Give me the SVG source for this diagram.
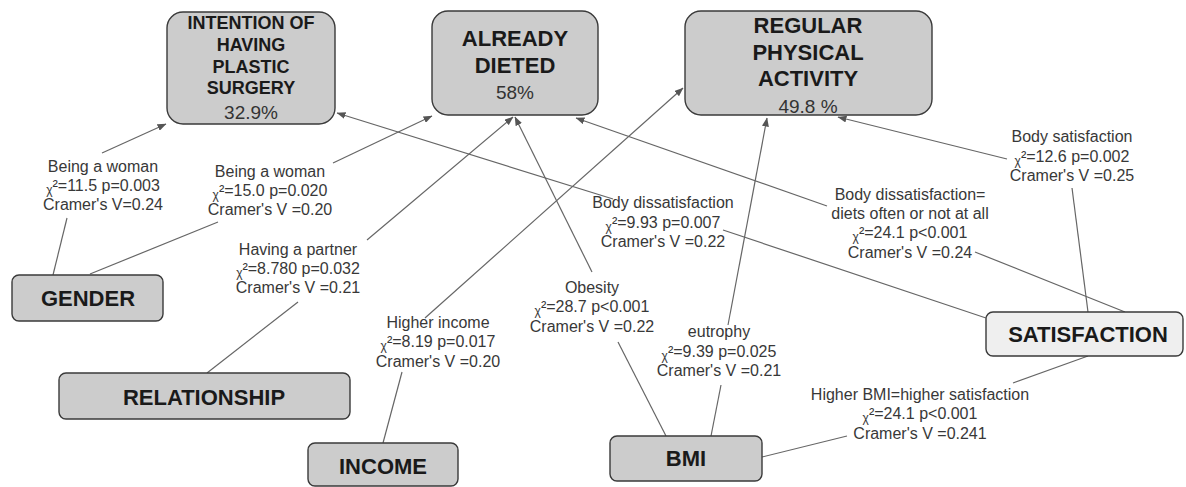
<svg xmlns="http://www.w3.org/2000/svg" width="1186" height="487" viewBox="0 0 1186 487">
<style>
.box{fill:#cccccc;stroke:#3a3a3a;stroke-width:1.4}
.box2{fill:#efefef;stroke:#3a3a3a;stroke-width:1.4}
.hd{font-family:"Liberation Sans",Arial,sans-serif;font-weight:bold;fill:#1a1a1a;text-anchor:middle}
.pc{font-family:"Liberation Sans",Arial,sans-serif;font-size:19px;fill:#333;text-anchor:middle}
.lb{font-family:"Liberation Sans",Arial,sans-serif;font-size:16px;fill:#383838;text-anchor:middle}
.chi{font-size:12px}
.ln{stroke:#666;stroke-width:1.2;fill:none}
.ar{marker-end:url(#ah)}
</style>
<defs>
<marker id="ah" markerWidth="9" markerHeight="7" refX="8.5" refY="3.5" orient="auto" markerUnits="userSpaceOnUse">
<path d="M0,0 L9,3.5 L0,7 z" fill="#555"/>
</marker>
</defs>
<rect width="1186" height="487" fill="#ffffff"/>

<g id="connectors">
<line class="ln" x1="53" y1="275" x2="67" y2="218"/>
<line class="ln ar" x1="102" y1="153" x2="166" y2="124"/>
<line class="ln" x1="90" y1="274" x2="218" y2="222"/>
<line class="ln ar" x1="333" y1="163" x2="432" y2="116"/>
<line class="ln" x1="207" y1="373" x2="298" y2="302"/>
<line class="ln ar" x1="367" y1="240" x2="513" y2="117"/>
<line class="ln" x1="383" y1="443" x2="402" y2="372"/>
<line class="ln ar" x1="425" y1="318" x2="683" y2="88"/>
<line class="ln" x1="666" y1="436" x2="618" y2="342"/>
<line class="ln ar" x1="592" y1="272" x2="515" y2="117"/>
<line class="ln" x1="711" y1="436" x2="721" y2="385"/>
<line class="ln ar" x1="728" y1="325" x2="767" y2="118"/>
<line class="ln" x1="762" y1="457" x2="847" y2="436"/>
<line class="ln" x1="1013" y1="383" x2="1088" y2="356"/>
<line class="ln" x1="986" y1="318" x2="723" y2="230"/>
<line class="ln ar" x1="613" y1="199" x2="337" y2="113"/>
<line class="ln" x1="1125" y1="312" x2="975" y2="252"/>
<line class="ln ar" x1="827" y1="206" x2="576" y2="118"/>
<line class="ln" x1="1088" y1="312" x2="1072" y2="188"/>
<line class="ln ar" x1="1007" y1="159" x2="838" y2="117"/>
</g>

<g id="node-intention">
<rect class="box" x="167" y="12" width="168" height="112" rx="16"/>
<text class="hd" font-size="18" x="251"><tspan x="251" y="29">INTENTION OF</tspan><tspan x="251" y="51">HAVING</tspan><tspan x="251" y="73">PLASTIC</tspan><tspan x="251" y="94">SURGERY</tspan></text>
<text class="pc" x="251" y="119">32.9%</text>
</g>

<g id="node-dieted">
<rect class="box" x="432" y="11" width="166" height="104" rx="16"/>
<text class="hd" font-size="22" x="515"><tspan x="515" y="46">ALREADY</tspan><tspan x="515" y="73">DIETED</tspan></text>
<text class="pc" x="515" y="99">58%</text>
</g>

<g id="node-activity">
<rect class="box" x="685" y="11" width="247" height="104" rx="16"/>
<text class="hd" font-size="22" x="808"><tspan x="808" y="33">REGULAR</tspan><tspan x="808" y="60">PHYSICAL</tspan><tspan x="808" y="86">ACTIVITY</tspan></text>
<text class="pc" x="808" y="113">49.8 %</text>
</g>

<g id="node-gender">
<rect class="box" x="12" y="275" width="151" height="46" rx="7"/>
<text class="hd" font-size="22" x="88" y="306">GENDER</text>
</g>

<g id="node-relationship">
<rect class="box" x="59" y="373" width="291" height="46" rx="7"/>
<text class="hd" font-size="22" x="204" y="405">RELATIONSHIP</text>
</g>

<g id="node-income">
<rect class="box" x="308" y="443" width="150" height="43" rx="7"/>
<text class="hd" font-size="22" x="383" y="474">INCOME</text>
</g>

<g id="node-bmi">
<rect class="box" x="610" y="436" width="152" height="45" rx="7"/>
<text class="hd" font-size="22" x="686" y="466">BMI</text>
</g>

<g id="node-satisfaction">
<rect class="box2" x="986" y="312" width="197" height="44" rx="7"/>
<text class="hd" font-size="22" x="1088" y="342">SATISFACTION</text>
</g>

<g id="labels">
<text class="lb"><tspan x="103" y="172">Being a woman</tspan><tspan x="103" y="191"><tspan class="chi" dy="3">χ</tspan><tspan dy="-3">²=11.5 p=0.003</tspan></tspan><tspan x="103" y="210">Cramer's V=0.24</tspan></text>
<text class="lb"><tspan x="270" y="177">Being a woman</tspan><tspan x="270" y="196"><tspan class="chi" dy="3">χ</tspan><tspan dy="-3">²=15.0 p=0.020</tspan></tspan><tspan x="270" y="215">Cramer's V =0.20</tspan></text>
<text class="lb"><tspan x="298" y="255">Having a partner</tspan><tspan x="298" y="274"><tspan class="chi" dy="3">χ</tspan><tspan dy="-3">²=8.780 p=0.032</tspan></tspan><tspan x="298" y="293">Cramer's V =0.21</tspan></text>
<text class="lb"><tspan x="663" y="208">Body dissatisfaction</tspan><tspan x="663" y="228"><tspan class="chi" dy="3">χ</tspan><tspan dy="-3">²=9.93 p=0.007</tspan></tspan><tspan x="663" y="247">Cramer's V =0.22</tspan></text>
<text class="lb"><tspan x="910" y="200">Body dissatisfaction=</tspan><tspan x="910" y="219">diets often or not at all</tspan><tspan x="910" y="238"><tspan class="chi" dy="3">χ</tspan><tspan dy="-3">²=24.1 p&lt;0.001</tspan></tspan><tspan x="910" y="258">Cramer's V =0.24</tspan></text>
<text class="lb"><tspan x="1072" y="142">Body satisfaction</tspan><tspan x="1072" y="162"><tspan class="chi" dy="3">χ</tspan><tspan dy="-3">²=12.6 p=0.002</tspan></tspan><tspan x="1072" y="181">Cramer's V =0.25</tspan></text>
<text class="lb"><tspan x="592" y="293">Obesity</tspan><tspan x="592" y="312"><tspan class="chi" dy="3">χ</tspan><tspan dy="-3">²=28.7 p&lt;0.001</tspan></tspan><tspan x="592" y="332">Cramer's V =0.22</tspan></text>
<text class="lb"><tspan x="438" y="328">Higher income</tspan><tspan x="438" y="347"><tspan class="chi" dy="3">χ</tspan><tspan dy="-3">²=8.19 p=0.017</tspan></tspan><tspan x="438" y="367">Cramer's V =0.20</tspan></text>
<text class="lb"><tspan x="719" y="337">eutrophy</tspan><tspan x="719" y="357"><tspan class="chi" dy="3">χ</tspan><tspan dy="-3">²=9.39 p=0.025</tspan></tspan><tspan x="719" y="376">Cramer's V =0.21</tspan></text>
<text class="lb"><tspan x="920" y="400">Higher BMI=higher satisfaction</tspan><tspan x="920" y="419"><tspan class="chi" dy="3">χ</tspan><tspan dy="-3">²=24.1 p&lt;0.001</tspan></tspan><tspan x="920" y="439">Cramer's V =0.241</tspan></text>
</g>
</svg>
